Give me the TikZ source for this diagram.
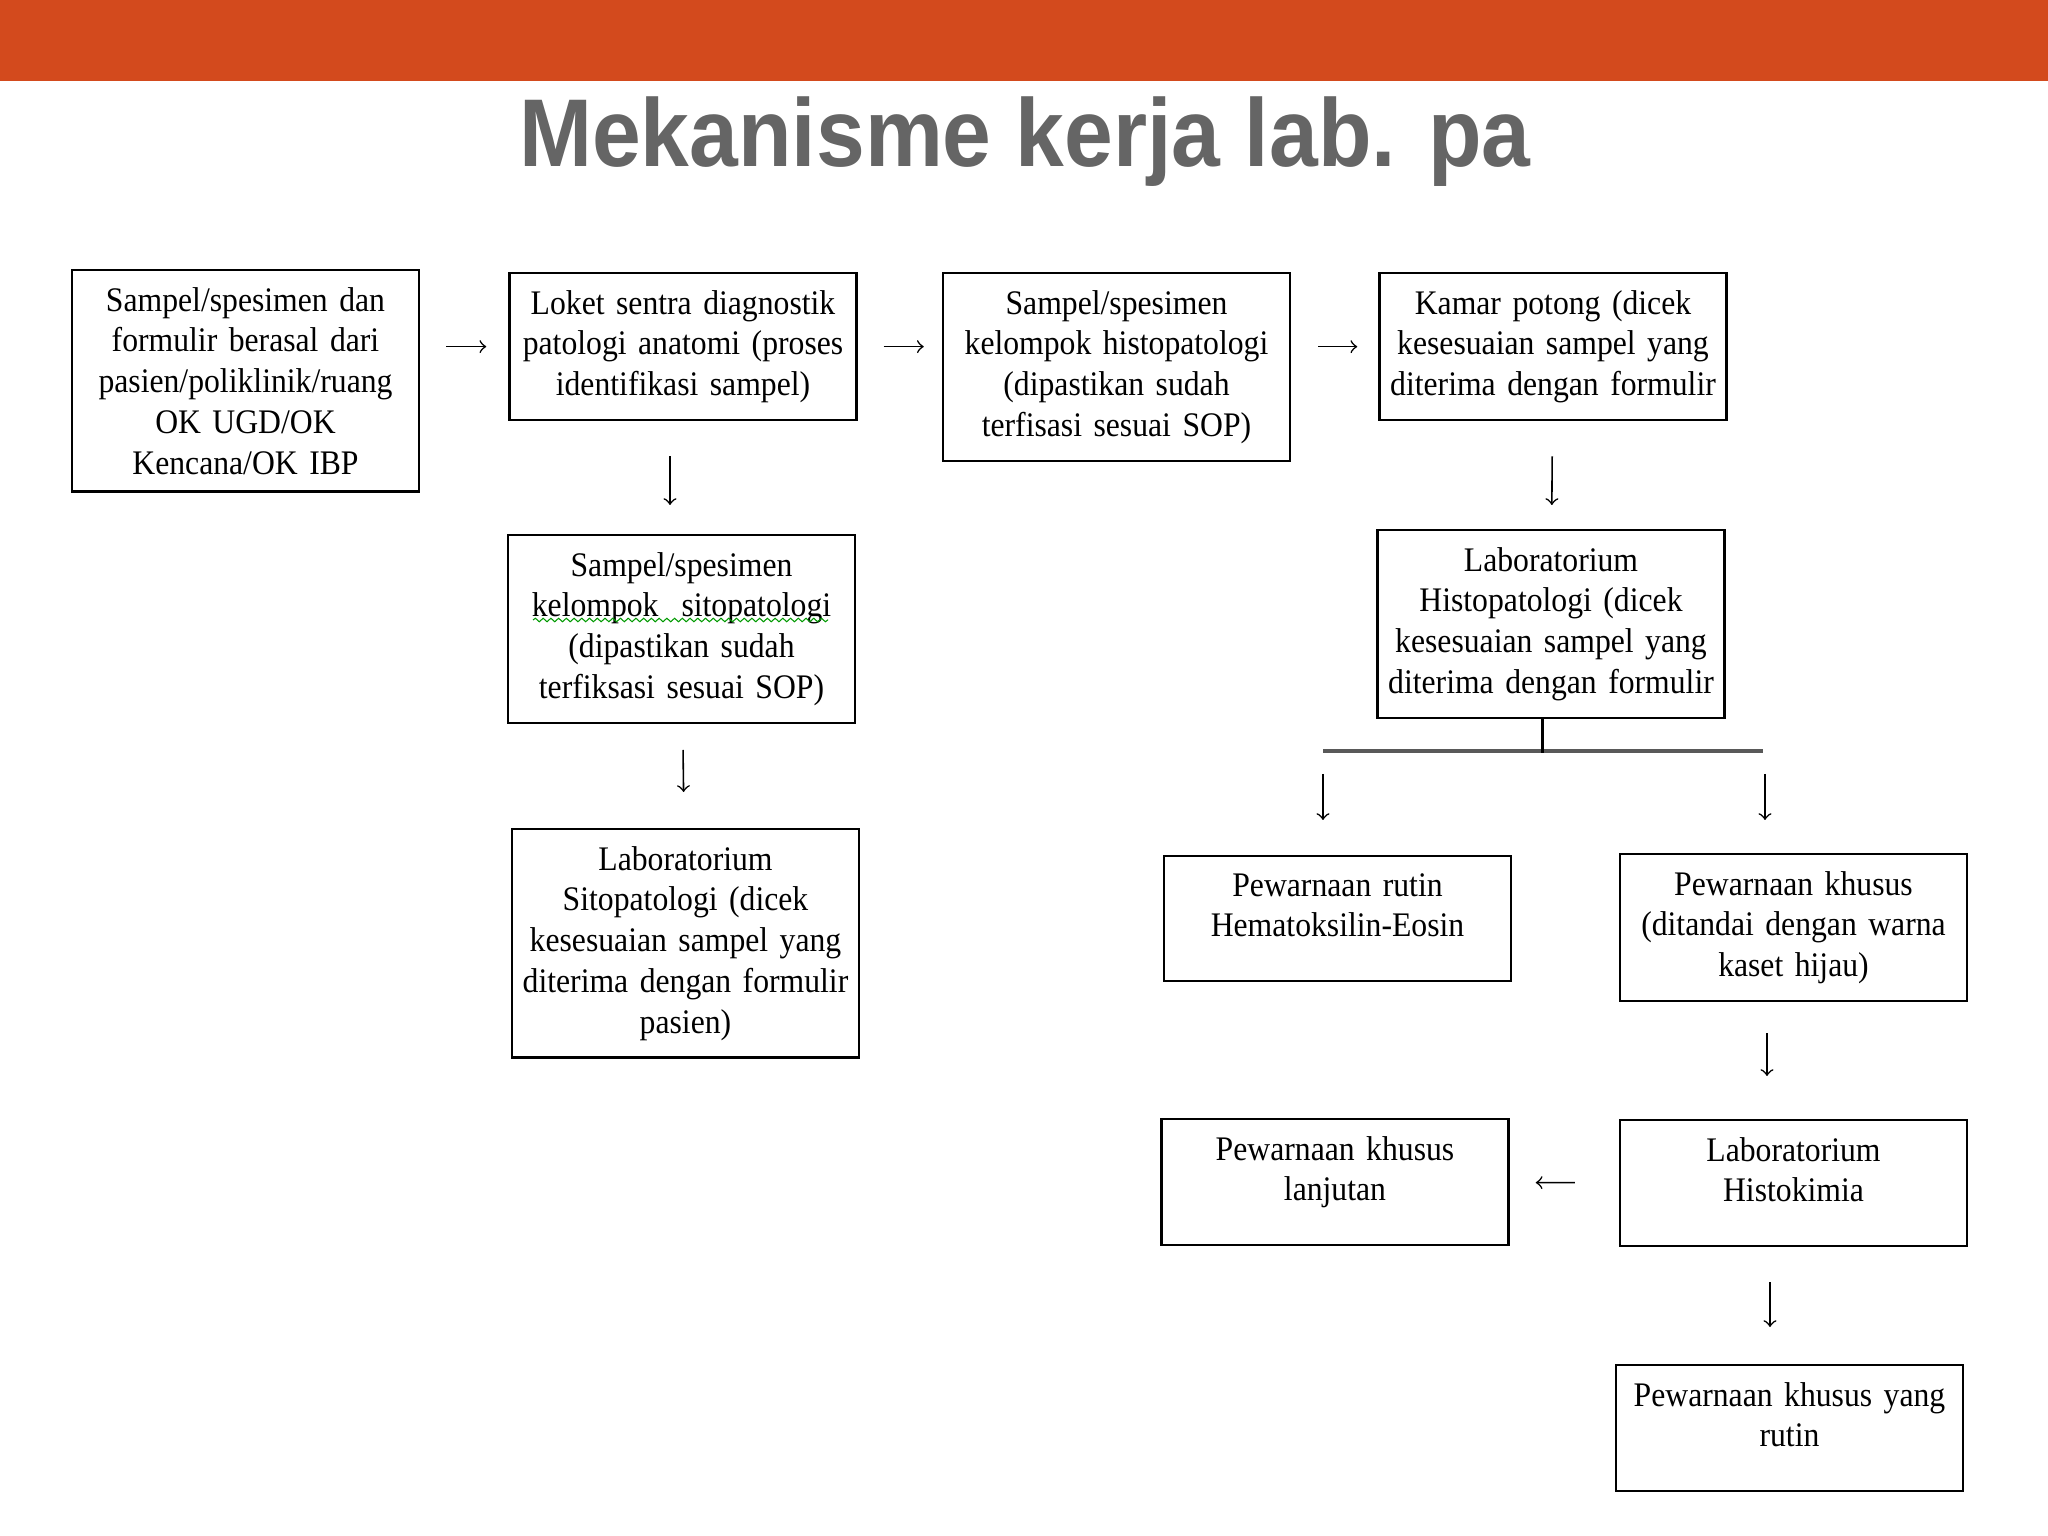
\documentclass[tikz,border=0pt]{standalone}
\usepackage{fontspec}
\setmainfont{Liberation Serif}[FakeStretch=0.92]
\newfontfamily\titlefont{Liberation Sans}[FakeStretch=0.91]
\usepackage{tikz}
\usetikzlibrary{decorations.pathmorphing}
\definecolor{barorange}{HTML}{D34A1D}
\definecolor{titlegray}{HTML}{656565}
\newcommand{\boxfont}{\fontsize{9.8pt}{11.6pt}\selectfont\spaceskip 1.8pt plus 0.5pt\relax}

\begin{document}
\begin{tikzpicture}[
	box/.style={rectangle, draw, line width=0.7pt, anchor=north, text width=3.35cm, inner xsep=0.06cm, inner ysep=0.17cm, align=center, font=\boxfont},
	twoline/.style={text depth=0.68cm},
	arr/.style={->, line width=0.45pt}]
	\useasboundingbox (0,0) rectangle (20.48,-15.36);
	\fill[barorange] (0,0) rectangle (20.48,-0.81);
	\node[anchor=base, text=titlegray, font=\titlefont\bfseries\fontsize{27.4pt}{30pt}\selectfont] (title) at (10.25,-1.67) {Mekanisme kerja lab. pa};

	% top row
	\node[box] (A) at (2.455,-2.69) {Sampel/spesimen dan\\formulir berasal dari\\pasien/poliklinik/ruang\\OK UGD/OK\\Kencana/OK IBP};
	\node[box] (B) at (6.83,-2.72) {Loket sentra diagnostik\\patologi anatomi (proses\\identifikasi sampel)};
	\node[box] (C) at (11.165,-2.72) {Sampel/spesimen\\kelompok histopatologi\\(dipastikan sudah\\terfisasi sesuai SOP)};
	\node[box] (D) at (15.53,-2.72) {Kamar potong (dicek\\kesesuaian sampel yang\\diterima dengan formulir};

	% sitopatologi
	\node[box] (E) at (6.815,-5.34) {Sampel/spesimen\\kelompok\ \ sitopatologi\\(dipastikan sudah\\terfiksasi sesuai SOP)};
	\node[box] (F) at (6.855,-8.28) {Laboratorium\\Sitopatologi (dicek\\kesesuaian sampel yang\\diterima dengan formulir\\pasien)};

	% histopatologi
	\node[box] (G) at (15.51,-5.29) {Laboratorium\\Histopatologi (dicek\\kesesuaian sampel yang\\diterima dengan formulir};
	\node[box, twoline] (H) at (13.375,-8.55) {Pewarnaan rutin\\Hematoksilin-Eosin};
	\node[box] (I) at (17.935,-8.53) {Pewarnaan khusus\\(ditandai dengan warna\\kaset hijau)};
	\node[box, twoline] (J) at (13.35,-11.18) {Pewarnaan khusus\\lanjutan};
	\node[box, twoline] (K) at (17.935,-11.19) {Laboratorium\\Histokimia};
	\node[box, twoline] (L) at (17.895,-13.64) {Pewarnaan khusus yang\\rutin};

	\draw[green!60!black, line width=0.3pt, decorate, decoration={snake, amplitude=0.5pt, segment length=2.2pt}] ([xshift=-1.485cm,yshift=-0.86cm]E.north) -- ([xshift=1.465cm,yshift=-0.86cm]E.north);

	\draw[arr, shorten <=0.26cm, shorten >=0.22cm] (A.east |- B) -- (B);
	\draw[arr, shorten <=0.26cm, shorten >=0.18cm] (B) -- (C.west |- B);
	\draw[arr, shorten <=0.27cm, shorten >=0.21cm] (C.east |- D) -- (D);
	\draw[arr, shorten <=0.35cm, shorten >=0.29cm] ([xshift=-0.13cm]B.south) -- ([xshift=-0.13cm]B.south |- E.north);
	\draw[arr, shorten <=0.26cm, shorten >=0.36cm] (E) -- (F);
	\draw[arr, shorten <=0.35cm, shorten >=0.24cm] (D) -- (G);

	% split below histopatologi
	\coordinate (brL) at (13.23,-7.51);
	\coordinate (brR) at (17.63,-7.51);
	\draw[line width=1pt, draw=black!65] (brL) -- (brR);
	\draw[line width=0.6pt] ([xshift=-0.085cm]G.south) -- ([xshift=-0.085cm,yshift=-0.02cm]G.south |- brL);
	\draw[arr, shorten <=0.23cm, shorten >=0.35cm] (brL) -- (brL |- H.north);
	\draw[arr, shorten <=0.23cm, shorten >=0.33cm] ([xshift=0.02cm]brR) -- ([xshift=0.02cm]brR |- I.north);
	\draw[arr, shorten <=0.31cm, shorten >=0.43cm] ([xshift=-0.265cm]I.south) -- ([xshift=-0.265cm]I.south |- K.north);
	\draw[arr, shorten <=0.44cm, shorten >=0.26cm] (K) -- (J);
	\draw[arr, shorten <=0.35cm, shorten >=0.37cm] ([xshift=-0.235cm]K.south) -- ([xshift=-0.235cm]K.south |- L.north);
\end{tikzpicture}
\end{document}
